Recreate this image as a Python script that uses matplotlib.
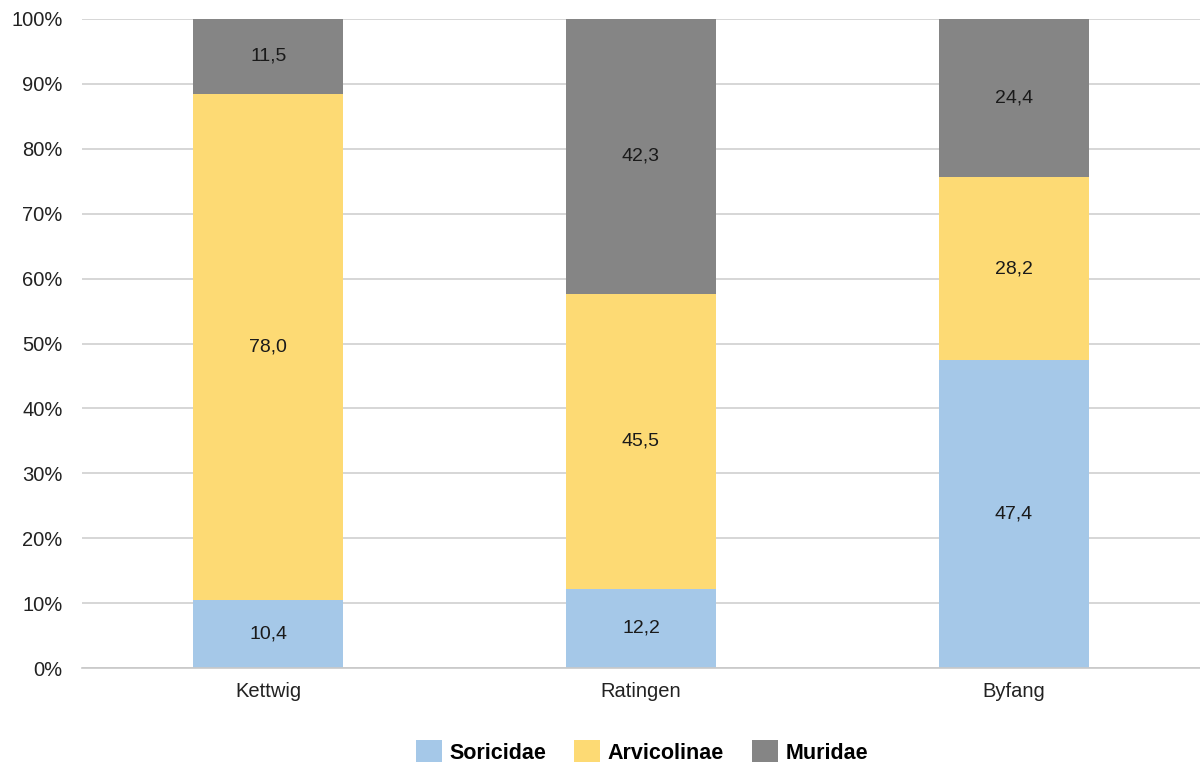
import numpy as np
import matplotlib
matplotlib.use("Agg")
import matplotlib.pyplot as plt
from matplotlib.ticker import PercentFormatter

plt.rcParams['font.family'] = ['Liberation Sans', 'DejaVu Sans']

# ===== data
sites = ["Kettwig", "Ratingen", "Byfang"]
soricidae = [10.4, 12.2, 47.4]
arvicolinae = [78.0, 45.5, 28.2]
muridae = [11.5, 42.3, 24.4]
labels = ["Soricidae", "Arvicolinae", "Muridae"]
colors = ["#A5C8E8", "#FDDA74", "#858585"]

fig = plt.figure(figsize=(12, 7.69), dpi=100)
ax = fig.add_axes([0.0683, 0.1313, 0.9317, 0.844])

series = np.array([soricidae, arvicolinae, muridae])
totals = series.sum(axis=0)  # 100% stacked, like the spreadsheet

x = np.arange(len(sites))
bottom = np.zeros(len(sites))
for vals, lab, col in zip(series, labels, colors):
    h = vals / totals * 100
    ax.bar(x, h, width=0.403, bottom=bottom, color=col, label=lab, zorder=2)
    for xi, v, hh, b in zip(x, vals, h, bottom):
        ax.text(xi, b + hh / 2, f"{v:.1f}".replace(".", ","), ha="center", va="center",
                fontsize=14, color="#1a1a1a", zorder=3)
    bottom += h

ax.set_xlim(-0.5, 2.5)
ax.set_ylim(0, 100)
ax.set_yticks(np.arange(0, 101, 10))
ax.yaxis.set_major_formatter(PercentFormatter(decimals=0))
ax.set_xticks(x)
ax.set_xticklabels(sites)
ax.tick_params(axis="both", length=0, labelsize=14.5, colors="#222222")
ax.tick_params(axis="y", pad=14)
ax.tick_params(axis="x", pad=10)
ax.grid(axis="y", color="#d0d0d0", linewidth=1.2, zorder=0)
for s in ["top", "right", "left"]:
    ax.spines[s].set_visible(False)
ax.spines["bottom"].set_color("#c8c8c8")
ax.spines["bottom"].set_linewidth(1.2)

fig.legend(loc="center", bbox_to_anchor=(0.535, 1 - 752 / 769), ncol=3, frameon=False,
           prop={"weight": "bold", "size": 15.5}, handlelength=1.2, handleheight=1.2,
           columnspacing=1.3, handletextpad=0.35)

fig.savefig("out.png", dpi=100)
